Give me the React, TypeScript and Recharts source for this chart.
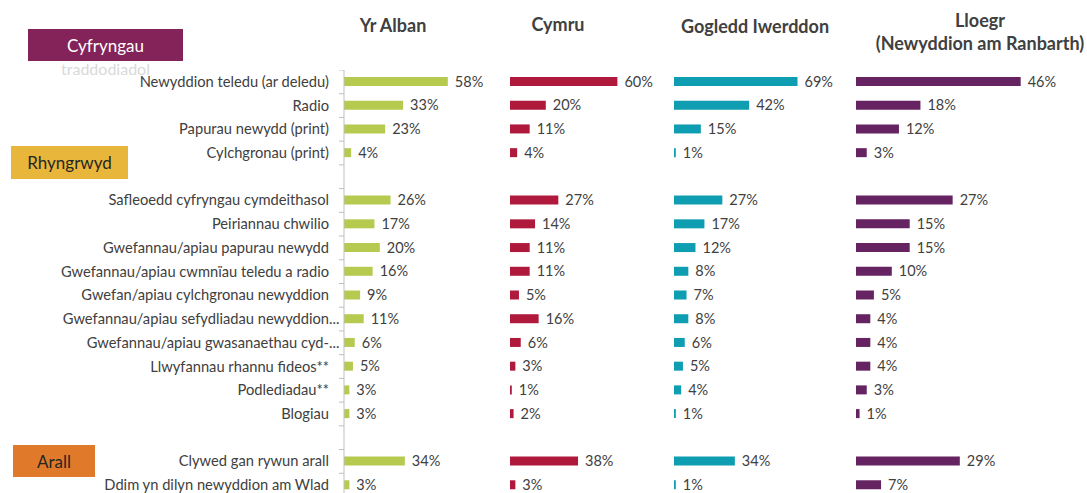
import { BarChart, Bar, XAxis, YAxis, LabelList } from 'recharts';

const categories = [
  'Newyddion teledu (ar deledu)',
  'Radio',
  'Papurau newydd (print)',
  'Cylchgronau (print)',
  '',
  'Safleoedd cyfryngau cymdeithasol',
  'Peiriannau chwilio',
  'Gwefannau/apiau papurau newydd',
  'Gwefannau/apiau cwmnïau teledu a radio',
  'Gwefan/apiau cylchgronau newyddion',
  'Gwefannau/apiau sefydliadau newyddion...',
  'Gwefannau/apiau gwasanaethau cyd-...',
  'Llwyfannau rhannu fideos**',
  'Podlediadau**',
  'Blogiau',
  '',
  'Clywed gan rywun arall',
  'Ddim yn dilyn newyddion am Wlad',
];

const albanValues = [58, 33, 23, 4, null, 26, 17, 20, 16, 9, 11, 6, 5, 3, 3, null, 34, 3];
const cymruValues = [60, 20, 11, 4, null, 27, 14, 11, 11, 5, 16, 6, 3, 1, 2, null, 38, 3];
const gogleddValues = [69, 42, 15, 1, null, 27, 17, 12, 8, 7, 8, 6, 5, 4, 1, null, 34, 1];
const lloegrValues = [46, 18, 12, 3, null, 27, 15, 15, 10, 5, 4, 4, 4, 3, 1, null, 29, 7];

const FONT = 'Lato, "Open Sans", sans-serif';
const TEXT = '#404040';
const PLOT_TOP = 70;
const PLOT_H = 427;
const PLOT_W = 179;
const AXIS_W = 344;
const BAND = PLOT_H / categories.length;
const LABEL_END = 329;

function buildData(values: (number | null)[]) {
  return categories.map((c, i) => ({ key: c || `gap${i}`, value: values[i] }));
}

// labels right-aligned at LABEL_END, tick marks on row boundaries
function CategoryTick(props: any) {
  const { y, index } = props;
  const label = categories[index] || '';
  const top = y - BAND / 2;
  const dots = label.endsWith('...');
  const main = dots ? label.slice(0, -3) : label;
  return (
    <g>
      <line x1={AXIS_W - 5} x2={AXIS_W} y1={top} y2={top} stroke="#bfbfbf" />
      {index === categories.length - 1 && (
        <line x1={AXIS_W - 5} x2={AXIS_W} y1={y + BAND / 2} y2={y + BAND / 2} stroke="#bfbfbf" />
      )}
      <text x={LABEL_END} y={y} dy={5} textAnchor="end" fill={TEXT} fontSize={14.7} fontFamily={FONT}>
        {main}
      </text>
      {dots && (
        <text x={LABEL_END} y={y} dy={5} textAnchor="start" fill={TEXT} fontSize={14.7} fontFamily={FONT}>
          ...
        </text>
      )}
    </g>
  );
}

interface PanelProps {
  values: (number | null)[];
  color: string;
  max: number;
  left: number;
  withAxis?: boolean;
}

function Panel({ values, color, max, left, withAxis }: PanelProps) {
  const axisW = withAxis ? AXIS_W : 0;
  return (
    <div style={{ position: 'absolute', left, top: PLOT_TOP }}>
      <BarChart
        width={axisW + PLOT_W + 60}
        height={PLOT_H}
        data={buildData(values)}
        layout="vertical"
        margin={{ top: 0, right: 60, bottom: 0, left: 0 }}
      >
        <XAxis type="number" domain={[0, max]} hide />
        <YAxis
          type="category"
          dataKey="key"
          hide={!withAxis}
          width={axisW}
          interval={0}
          tickLine={false}
          axisLine={{ stroke: '#bfbfbf' }}
          tick={<CategoryTick />}
        />
        <Bar dataKey="value" fill={color} barSize={9} isAnimationActive={false}>
          <LabelList
            dataKey="value"
            position="right"
            offset={7}
            formatter={(v: any) => (v == null ? '' : `${v}%`)}
            fill={TEXT}
            fontSize={14.5}
            fontFamily={FONT}
          />
        </Bar>
      </BarChart>
    </div>
  );
}

const headerStyle: React.CSSProperties = {
  position: 'absolute',
  fontFamily: FONT,
  fontWeight: 700,
  fontSize: 18,
  color: TEXT,
  textAlign: 'center',
  lineHeight: '23px',
  width: 260,
};

const boxStyle: React.CSSProperties = {
  position: 'absolute',
  fontFamily: FONT,
  fontSize: 17,
  display: 'flex',
  alignItems: 'center',
  justifyContent: 'center',
};

export default function App() {
  return (
    <div
      style={{
        position: 'fixed',
        left: 0,
        top: 0,
        width: 1087,
        height: 493,
        overflow: 'hidden',
        background: '#fff',
      }}
    >
      <div style={{ ...headerStyle, left: 393 - 130, top: 14 }}>Yr Alban</div>
      <div style={{ ...headerStyle, left: 558 - 130, top: 13 }}>Cymru</div>
      <div style={{ ...headerStyle, left: 755 - 130, top: 15 }}>Gogledd Iwerddon</div>
      <div style={{ ...headerStyle, left: 980 - 130, top: 9 }}>
        Lloegr
        <br />
        (Newyddion am Ranbarth)
      </div>

      <div style={{ ...boxStyle, left: 28, top: 29, width: 155, height: 32, background: '#842359', color: '#fff' }}>
        Cyfryngau
      </div>
      <div
        style={{
          position: 'absolute',
          left: 28,
          top: 60,
          width: 155,
          textAlign: 'center',
          fontFamily: FONT,
          fontSize: 16,
          lineHeight: '18px',
          color: '#d9d9d9',
        }}
      >
        traddodiadol
      </div>
      <div style={{ ...boxStyle, left: 11, top: 146, width: 117, height: 33, background: '#E8B63A', color: '#262626' }}>
        Rhyngrwyd
      </div>
      <div style={{ ...boxStyle, left: 13, top: 445, width: 82, height: 32, background: '#E07A2A', color: '#262626' }}>
        Arall
      </div>

      <Panel values={albanValues} color="#B5CA4F" max={100} left={0} withAxis />
      <Panel values={cymruValues} color="#AF193C" max={100} left={510} />
      <Panel values={gogleddValues} color="#0F9DB1" max={100} left={674} />
      <Panel values={lloegrValues} color="#652362" max={50} left={856} />
    </div>
  );
}
